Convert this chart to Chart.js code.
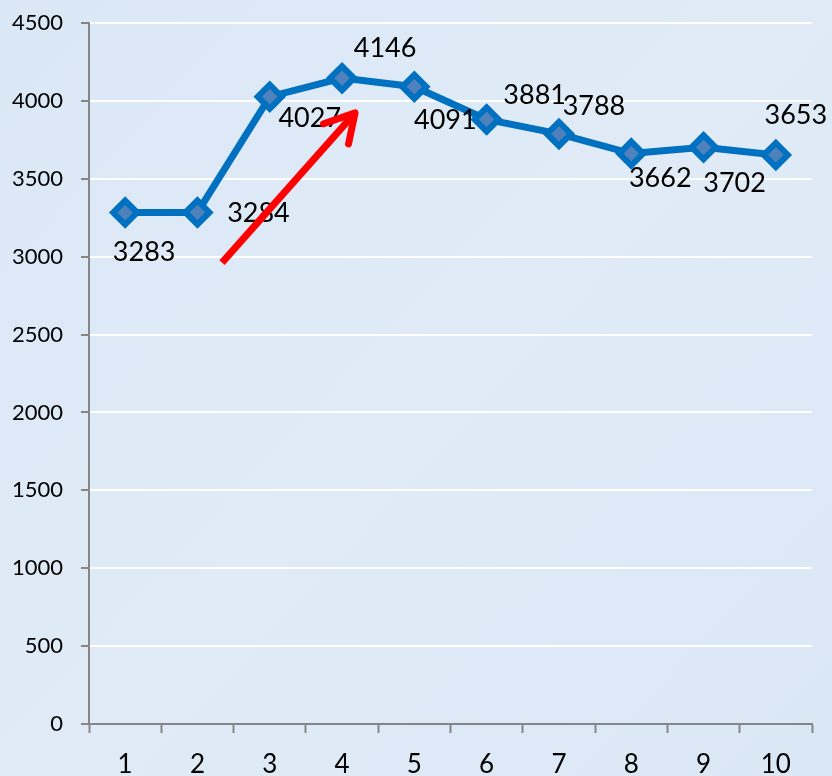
<!DOCTYPE html>
<html>
<head>
<meta charset="utf-8">
<script src="https://cdn.jsdelivr.net/npm/chart.js@4/dist/chart.umd.min.js"></script>
<style>
  html, body { margin: 0; padding: 0; background: #dde9f6; }
  #wrap { width: 832px; height: 776px; position: relative; }
</style>
</head>
<body>
<div id="wrap"><canvas id="c" width="832" height="776"></canvas></div>
<script>
// ---- data ----
const categories = ['1','2','3','4','5','6','7','8','9','10'];
const values = [3283, 3284, 4027, 4146, 4091, 3881, 3788, 3662, 3702, 3653];
const yTicks = [0, 500, 1000, 1500, 2000, 2500, 3000, 3500, 4000, 4500];
// label placement offsets (pixels, relative to point) – styling only
const labelOffsets = [[19,40],[61,1],[40,22],[43,-30],[31,34],[48,-24],[35,-28],[29,25],[31,36],[20,-40]];
// red arrow annotation in data space: [categoryIndex, value]
const arrowShaft = [[1.34, 2962], [3.18, 3923]];
const arrowWings = [[2.745, 3853], [3.09, 3724]];

const bgPlugin = {
  id: 'bg',
  beforeDraw(chart) {
    const ctx = chart.ctx;
    ctx.save();
    const g = ctx.createLinearGradient(0, 0, chart.width, chart.height);
    g.addColorStop(0, '#dae7f5');
    g.addColorStop(0.5, '#e0ebf7');
    g.addColorStop(1, '#dae7f5');
    ctx.fillStyle = g;
    ctx.fillRect(0, 0, chart.width, chart.height);
    ctx.restore();
  }
};

const labelPlugin = {
  id: 'dlabels',
  afterDatasetsDraw(chart) {
    const ctx = chart.ctx;
    const meta = chart.getDatasetMeta(0);
    ctx.save();
    ctx.font = '27px Lato';
    ctx.fillStyle = '#000';
    ctx.textAlign = 'center';
    ctx.textBaseline = 'middle';
    meta.data.forEach((pt, i) => {
      const o = labelOffsets[i];
      ctx.fillText(String(values[i]), pt.x + o[0], pt.y + o[1]);
    });
    ctx.restore();
  }
};

const arrowPlugin = {
  id: 'arrow',
  afterDraw(chart) {
    const xs = chart.scales.x, ys = chart.scales.y;
    const px = (p) => [xs.getPixelForValue(p[0]), ys.getPixelForValue(p[1])];
    const a = px(arrowShaft[0]), b = px(arrowShaft[1]);
    const w1 = px(arrowWings[0]), w2 = px(arrowWings[1]);
    const ctx = chart.ctx;
    ctx.save();
    ctx.strokeStyle = '#ff0000';
    ctx.lineWidth = 7;
    ctx.lineCap = 'butt';
    ctx.beginPath();
    ctx.moveTo(a[0], a[1]);
    ctx.lineTo(b[0], b[1]);
    ctx.stroke();
    ctx.lineJoin = 'round';
    ctx.lineCap = 'round';
    ctx.beginPath();
    ctx.moveTo(w1[0], w1[1]);
    ctx.lineTo(b[0], b[1]);
    ctx.lineTo(w2[0], w2[1]);
    ctx.stroke();
    ctx.restore();
  }
};

new Chart(document.getElementById('c'), {
  type: 'line',
  data: {
    labels: categories,
    datasets: [{
      data: values,
      borderColor: '#0070c0',
      borderWidth: 7,
      tension: 0,
      pointStyle: 'rectRot',
      pointRadius: 12,
      pointHoverRadius: 12,
      pointBackgroundColor: '#4f81bd',
      pointBorderColor: '#0070c0',
      pointBorderWidth: 6
    }]
  },
  options: {
    responsive: false,
    animation: false,
    events: [],
    layout: { padding: { top: 23, right: 20, left: 0, bottom: 0 } },
    plugins: { legend: { display: false }, tooltip: { enabled: false } },
    scales: {
      x: {
        offset: true,
        grid: { offset: true, drawOnChartArea: false, tickLength: 9, tickColor: '#868686', tickWidth: 2 },
        border: { color: '#868686', width: 2 },
        ticks: { color: '#000', font: { family: 'Lato', size: 26 }, padding: 16, maxRotation: 0 },
        afterFit(s) { s.height = 52; s.paddingLeft = 0; s.paddingRight = 0; }
      },
      y: {
        min: 0, max: 4500,
        afterBuildTicks(s) { s.ticks = yTicks.map(v => ({ value: v })); },
        grid: { color: '#ffffff', lineWidth: 2, tickLength: 8, tickColor: '#868686', tickWidth: 2 },
        border: { color: '#868686', width: 2 },
        ticks: { color: '#000', font: { family: 'Lato', size: 22 }, padding: 18, callback: (v) => String(v) },
        afterFit(s) { s.width = 89; s.paddingTop = 0; s.paddingBottom = 0; }
      }
    }
  },
  plugins: [bgPlugin, labelPlugin, arrowPlugin]
});
</script>
</body>
</html>
